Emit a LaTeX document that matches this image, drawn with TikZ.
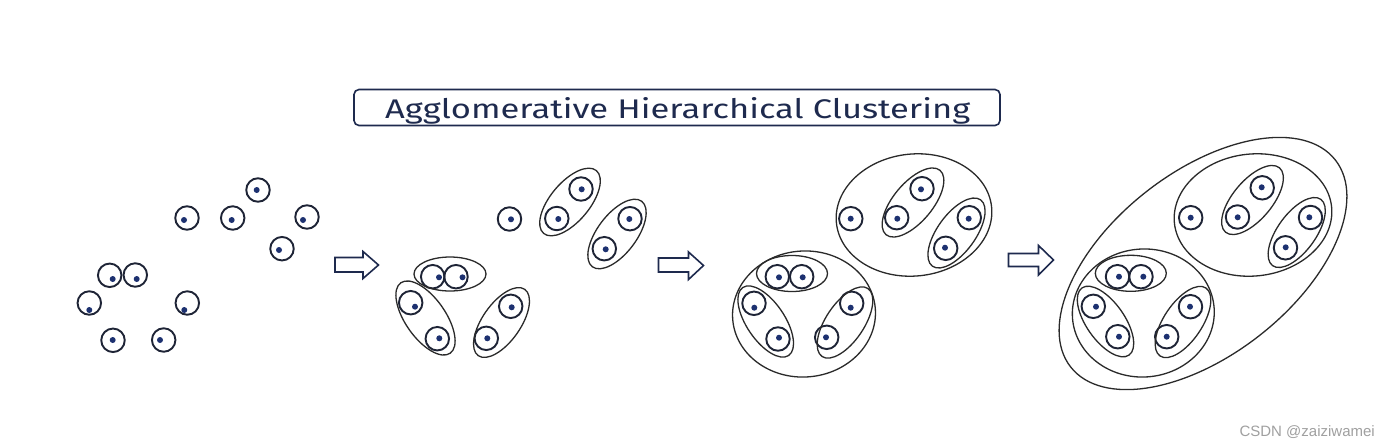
\documentclass[tikz,border=0pt]{standalone}
\usepackage{fontspec}
\setmainfont{Fira Sans}
\newfontfamily\wmfont{Liberation Sans}
\usetikzlibrary{calc}
\definecolor{ringc}{HTML}{1E2436}
\definecolor{dotc}{HTML}{1D3170}
\definecolor{ellc}{HTML}{2A2A2A}
\definecolor{titlec}{HTML}{1E2A4E}
\definecolor{wmc}{HTML}{A0A0A0}
\tikzset{
  pt/.style={circle, draw=ringc, line width=1.9pt, minimum size=23.5pt, inner sep=0pt},
  ell/.style={draw=ellc, line width=1.3pt},
  blockarrow/.style={draw=titlec, line width=1.6pt, line join=miter},
}
% \ptdot{name}{cx}{cy}{dotx}{doty}
\newcommand\ptdot[5]{\node[pt] (#1) at (#2,#3) {}; \fill[dotc] (#4,#5) circle (3pt);}
% \clell{cx}{cy}{a}{b}{angle}
\newcommand\clell[5]{\draw[ell, rotate around={#5:(#1,#2)}] (#1,#2) ellipse [x radius=#3pt, y radius=#4pt];}
\begin{document}
\begin{tikzpicture}[x=1pt, y=-1pt]
\useasboundingbox (0,0) rectangle (1386,445);
\fill[white] (0,0) rectangle (1386,445);

% title
\node[draw=titlec, line width=1.6pt, rounded corners=5pt, minimum width=646pt, minimum height=36pt, inner sep=0pt] (tbox) at (677,107.5) {};
\node[anchor=base west, inner sep=0pt, text=titlec] (title) at (385,118.5)
  {\resizebox{585pt}{21pt}{\fontsize{30}{30}\selectfont Agglomerative Hierarchical Clustering}};

% ---------- panel 1 ----------
\ptdot{p1}{258}{190}{256.7}{190}
\ptdot{p2}{187}{218}{184}{220}
\ptdot{p3}{232.7}{218}{231.7}{220}
\ptdot{p4}{307}{217}{303}{220}
\ptdot{p5}{282}{248.7}{279}{250}
\ptdot{p6}{109.7}{275.3}{112.7}{279}
\ptdot{p7}{135.3}{275}{136.7}{279}
\ptdot{p8}{89.3}{303}{89.3}{310}
\ptdot{p9}{187.3}{303}{184.3}{310}
\ptdot{p10}{113}{340.3}{112.7}{340}
\ptdot{p11}{163.7}{340}{160}{340}

% arrow 1
\draw[blockarrow] (335,257.5) -- (363,257.5) -- (363,251.5) -- (378.5,265) -- (363,278.5) -- (363,272) -- (335,272) -- cycle;

% ---------- panel 2 ----------
\ptdot{q1}{509.5}{219}{511}{219.3}
\ptdot{qA1}{581}{189}{581.7}{189.3}
\ptdot{qA2}{556.8}{218.5}{558.3}{219}
\clell{570}{202}{41}{19.5}{50}
\ptdot{qB1}{630}{218.7}{629.3}{219}
\ptdot{qB2}{604.3}{248.7}{605.7}{249.3}
\clell{617}{234}{41}{19.5}{53}
\ptdot{qC1}{432.7}{276.7}{439}{277.3}
\ptdot{qC2}{456}{276.7}{462.5}{277.3}
\clell{450}{274}{36}{17}{0}
\ptdot{qD1}{410.7}{302.7}{415}{306.7}
\ptdot{qD2}{437.3}{338.7}{439.3}{338.3}
\clell{425.5}{318}{43}{20}{-55}
\ptdot{qE1}{510.7}{306.3}{511.7}{307.3}
\ptdot{qE2}{486.3}{338.3}{487.3}{338.3}
\clell{501.5}{322.5}{40.5}{19}{55}

% arrow 2
\draw[blockarrow] (658.5,258) -- (688.5,258) -- (688.5,252) -- (703.5,265.5) -- (688.5,279.5) -- (688.5,272) -- (658.5,272) -- cycle;

% ---------- panel 3 ----------
\clell{914}{215}{78}{61}{6}
\ptdot{r1}{850.8}{218.7}{850.7}{218.7}
\ptdot{rA1}{922}{188.7}{921}{189.3}
\ptdot{rA2}{896.7}{217.7}{897.3}{218.7}
\clell{913}{202.5}{42}{19.5}{50}
\ptdot{rB1}{969.3}{217.7}{968.7}{218.7}
\ptdot{rB2}{945.7}{248.3}{945}{247.7}
\clell{956.5}{233}{41}{19}{54}
\clell{804}{314}{71.5}{63}{4}
\ptdot{rC1}{777.3}{276.7}{779}{277.3}
\ptdot{rC2}{801.7}{276.7}{802.7}{277.3}
\clell{792}{273.5}{35.5}{18}{0}
\ptdot{rD1}{754}{303.3}{754.3}{307.7}
\ptdot{rD2}{778}{339}{779}{337.7}
\clell{765.7}{321.5}{41}{19}{-56}
\ptdot{rE1}{851.7}{303.3}{850.7}{307.7}
\ptdot{rE2}{826.7}{337.3}{826}{337.3}
\clell{845}{322.5}{41}{19}{56}

% arrow 3
\draw[blockarrow] (1008.5,253.5) -- (1038.5,253.5) -- (1038.5,245.5) -- (1053.5,260) -- (1038.5,275) -- (1038.5,266.5) -- (1008.5,266.5) -- cycle;

% ---------- panel 4 ----------
\clell{1203}{263.5}{168}{91.5}{38}
\clell{1253}{215}{79}{61}{6}
\ptdot{s1}{1190.7}{217.7}{1190.7}{217.7}
\ptdot{sA1}{1262.2}{187.8}{1261.7}{187.3}
\ptdot{sA2}{1237.5}{217}{1237.7}{217.3}
\clell{1252.5}{200}{42}{19.5}{50}
\ptdot{sB1}{1310.5}{217.5}{1309.3}{217.3}
\ptdot{sB2}{1285.5}{247.8}{1285.7}{247.3}
\clell{1296.7}{232.5}{41}{19}{54}
\clell{1143.3}{313}{71}{64}{4}
\ptdot{sC1}{1117.5}{276.7}{1119}{276.7}
\ptdot{sC2}{1141}{276.7}{1143.3}{276.7}
\clell{1130.8}{273.3}{35.5}{18}{0}
\ptdot{sD1}{1093.3}{306.3}{1096}{306.7}
\ptdot{sD2}{1117.8}{336.7}{1119}{336.7}
\clell{1105.5}{321.5}{41}{19}{-55}
\ptdot{sE1}{1190.5}{306.7}{1190}{306.7}
\ptdot{sE2}{1166.7}{336.7}{1166.7}{336.7}
\clell{1183}{322}{41}{19}{56}

% watermark
\node[anchor=base east, inner sep=0pt, text=wmc, font=\wmfont\fontsize{15}{15}\selectfont] (wm) at (1375,436.5) {CSDN @zaiziwamei};
\end{tikzpicture}
\end{document}
